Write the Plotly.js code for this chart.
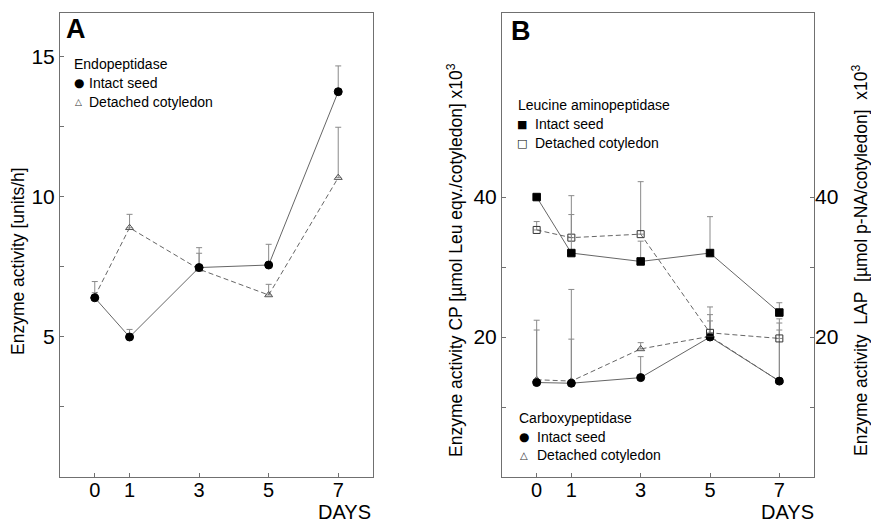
<!DOCTYPE html>
<html>
<head>
<meta charset="utf-8">
<script src="https://cdn.plot.ly/plotly-3.0.1.min.js"></script>
<style>html,body{margin:0;padding:0;background:#fff}#chart{width:871px;height:522px}</style>
</head>
<body>
<div id="chart"></div>
<script>
// ---- data ----
const days = [0, 1, 3, 5, 7];
const dayTicks = [0, 1, 3, 5, 7];

// Panel A: Endopeptidase (units/h)
const endoIntact = [6.4, 5.0, 7.48, 7.57, 13.76];
const endoIntactErr = [0.58, 0.27, 0.71, 0.74, 0.92];
const endoDetached = [6.45, 8.9, 7.42, 6.5, 10.69];
const endoDetachedErr = [0.13, 0.48, 0.57, 0.38, 1.8];

// Panel B: Leucine aminopeptidase (x10^3)
const lapIntact = [40.0, 32.0, 30.8, 32.0, 23.5];
const lapIntactErr = [0, 8.2, 2.9, 5.2, 1.4];
const lapDetached = [35.3, 34.2, 34.7, 20.6, 19.8];
const lapDetachedErr = [1.2, 3.3, 7.5, 3.7, 2.8];

// Panel B: Carboxypeptidase (x10^3)
const cpIntact = [13.5, 13.4, 14.2, 20.0, 13.7];
const cpIntactErr = [8.9, 13.4, 3.0, 2.3, 8.3];
const cpDetached = [13.9, 13.7, 18.3, 20.1, 13.7];
const cpDetachedErr = [7.1, 6.0, 0.9, 3.1, 7.3];

const yTicksA = [2.5, 5, 7.5, 10, 12.5, 15];
const yTickTextA = [' ', '5', ' ', '10', ' ', '15'];
const yTicksB = [10, 20, 30, 40];
const yTickTextB = [' ', '20', ' ', '40'];

// ---- helpers ----
const W = 871, H = 522;
const px = x => x / W;
const py = y => 1 - y / H;
const LINE = '#666666';
const ERR = '#8a8a8a';
const FONT = 'Arial, "Liberation Sans", sans-serif';

function err(arr) {
  return {type: 'data', symmetric: false, array: arr, arrayminus: arr.map(() => 0),
          color: ERR, thickness: 1, width: 3};
}
function tr(y, e, xa, ya, dash, sym, fill, size) {
  return {
    x: days, y: y, xaxis: xa, yaxis: ya, type: 'scatter', mode: 'lines+markers',
    line: {color: LINE, width: 1, dash: dash},
    marker: {symbol: sym, size: size, color: fill, line: {color: '#000', width: 1}},
    error_y: err(e), showlegend: false, cliponaxis: false
  };
}

const data = [
  tr(endoDetached, endoDetachedErr, 'x', 'y', '5px,3px', 'triangle-up-open', '#555', 7),
  tr(endoIntact, endoIntactErr, 'x', 'y', 'solid', 'circle', '#000', 8),
  tr(cpDetached, cpDetachedErr, 'x2', 'y2', '5px,3px', 'triangle-up-open', '#555', 7),
  tr(cpIntact, cpIntactErr, 'x2', 'y2', 'solid', 'circle', '#000', 8),
  tr(lapDetached, lapDetachedErr, 'x2', 'y3', '5px,3px', 'square-open', '#333', 7),
  tr(lapIntact, lapIntactErr, 'x2', 'y3', 'solid', 'square', '#000', 7.5)
];

const axBase = {
  showline: true, linecolor: '#707070', linewidth: 1, mirror: true,
  ticks: 'inside', ticklen: 4, tickcolor: '#707070', tickwidth: 1,
  showgrid: false, zeroline: false, automargin: false,
  tickfont: {family: FONT, size: 21, color: '#000'}
};

const xa = Object.assign({}, axBase, {range: [-1, 8], tickmode: 'array', tickvals: dayTicks,
  ticktext: dayTicks.map(String), ticklabelstandoff: -5, tickfont: {family: FONT, size: 20, color: '#000'}});

const layout = {
  width: W, height: H,
  margin: {l: 0, r: 0, t: 0, b: 0},
  paper_bgcolor: '#fff', plot_bgcolor: '#fff',
  showlegend: false,
  font: {family: FONT, color: '#000'},
  xaxis: Object.assign({}, xa, {domain: [px(60), px(373)], anchor: 'y'}),
  yaxis: Object.assign({}, axBase, {domain: [py(477), py(13)], anchor: 'x', range: [0, 16.57],
    tickmode: 'array', tickvals: yTicksA, ticktext: yTickTextA}),
  xaxis2: Object.assign({}, xa, {domain: [px(502), px(814)], anchor: 'y2'}),
  yaxis2: Object.assign({}, axBase, {domain: [py(477), py(13)], anchor: 'x2', range: [0, 66.3],
    tickmode: 'array', tickvals: yTicksB, ticktext: yTickTextB}),
  yaxis3: Object.assign({}, axBase, {overlaying: 'y2', side: 'right', anchor: 'x2', range: [0, 66.3],
    mirror: false, showline: false, tickmode: 'array', tickvals: yTicksB, ticktext: yTickTextB}),
  annotations: []
};

function ann(text, x, y, opts) {
  layout.annotations.push(Object.assign({
    text: text, x: px(x), y: py(y), xref: 'paper', yref: 'paper',
    xanchor: 'left', yanchor: 'middle', showarrow: false,
    font: {family: FONT, size: 14, color: '#000'}
  }, opts || {}));
}

// panel letters
ann('<b>A</b>', 64, 29, {font: {family: FONT, size: 27, color: '#000'}});
ann('<b>B</b>', 509, 31, {font: {family: FONT, size: 27, color: '#000'}});

// legend A
ann('Endopeptidase', 72, 64);
ann('●', 78.5, 83, {xanchor: 'center', font: {family: 'DejaVu Sans', size: 12, color: '#000'}});
ann('Intact seed', 87, 83);
ann('△', 78.5, 102, {xanchor: 'center', font: {family: 'DejaVu Sans', size: 9, color: '#333'}});
ann('Detached cotyledon', 87, 102);

// legend B (LAP)
ann('Leucine aminopeptidase', 516, 105);
ann('■', 522, 124, {xanchor: 'center', font: {family: 'DejaVu Sans', size: 11, color: '#000'}});
ann('Intact seed', 533, 124);
ann('□', 522, 143, {xanchor: 'center', font: {family: 'DejaVu Sans', size: 11, color: '#000'}});
ann('Detached cotyledon', 533, 143);

// legend B (CP)
ann('Carboxypeptidase', 517, 418);
ann('●', 524, 437, {xanchor: 'center', font: {family: 'DejaVu Sans', size: 12, color: '#000'}});
ann('Intact seed', 535, 437);
ann('△', 524, 455, {xanchor: 'center', font: {family: 'DejaVu Sans', size: 10, color: '#333'}});
ann('Detached cotyledon', 535, 455);

// axis titles
const tfont = {family: FONT, size: 17.5, color: '#000'};
ann('Enzyme activity [units/h]', 18, 261, {xanchor: 'center', textangle: -90, font: tfont});
ann('Enzyme activity CP [µmol Leu eqv./cotyledon] x10<sup>3</sup>', 455, 260, {xanchor: 'center', textangle: -90, font: tfont});
ann('Enzyme activity\u00a0 LAP\u00a0 [µmol p-NA/cotyledon]\u00a0 x10<sup>3</sup>', 860, 260, {xanchor: 'center', textangle: -90, font: tfont});

// DAYS labels
ann('DAYS', 344, 512, {xanchor: 'center', font: {family: FONT, size: 20, color: '#000'}});
ann('DAYS', 787, 512, {xanchor: 'center', font: {family: FONT, size: 20, color: '#000'}});

Plotly.newPlot('chart', data, layout, {staticPlot: true, displayModeBar: false});
</script>
</body>
</html>
